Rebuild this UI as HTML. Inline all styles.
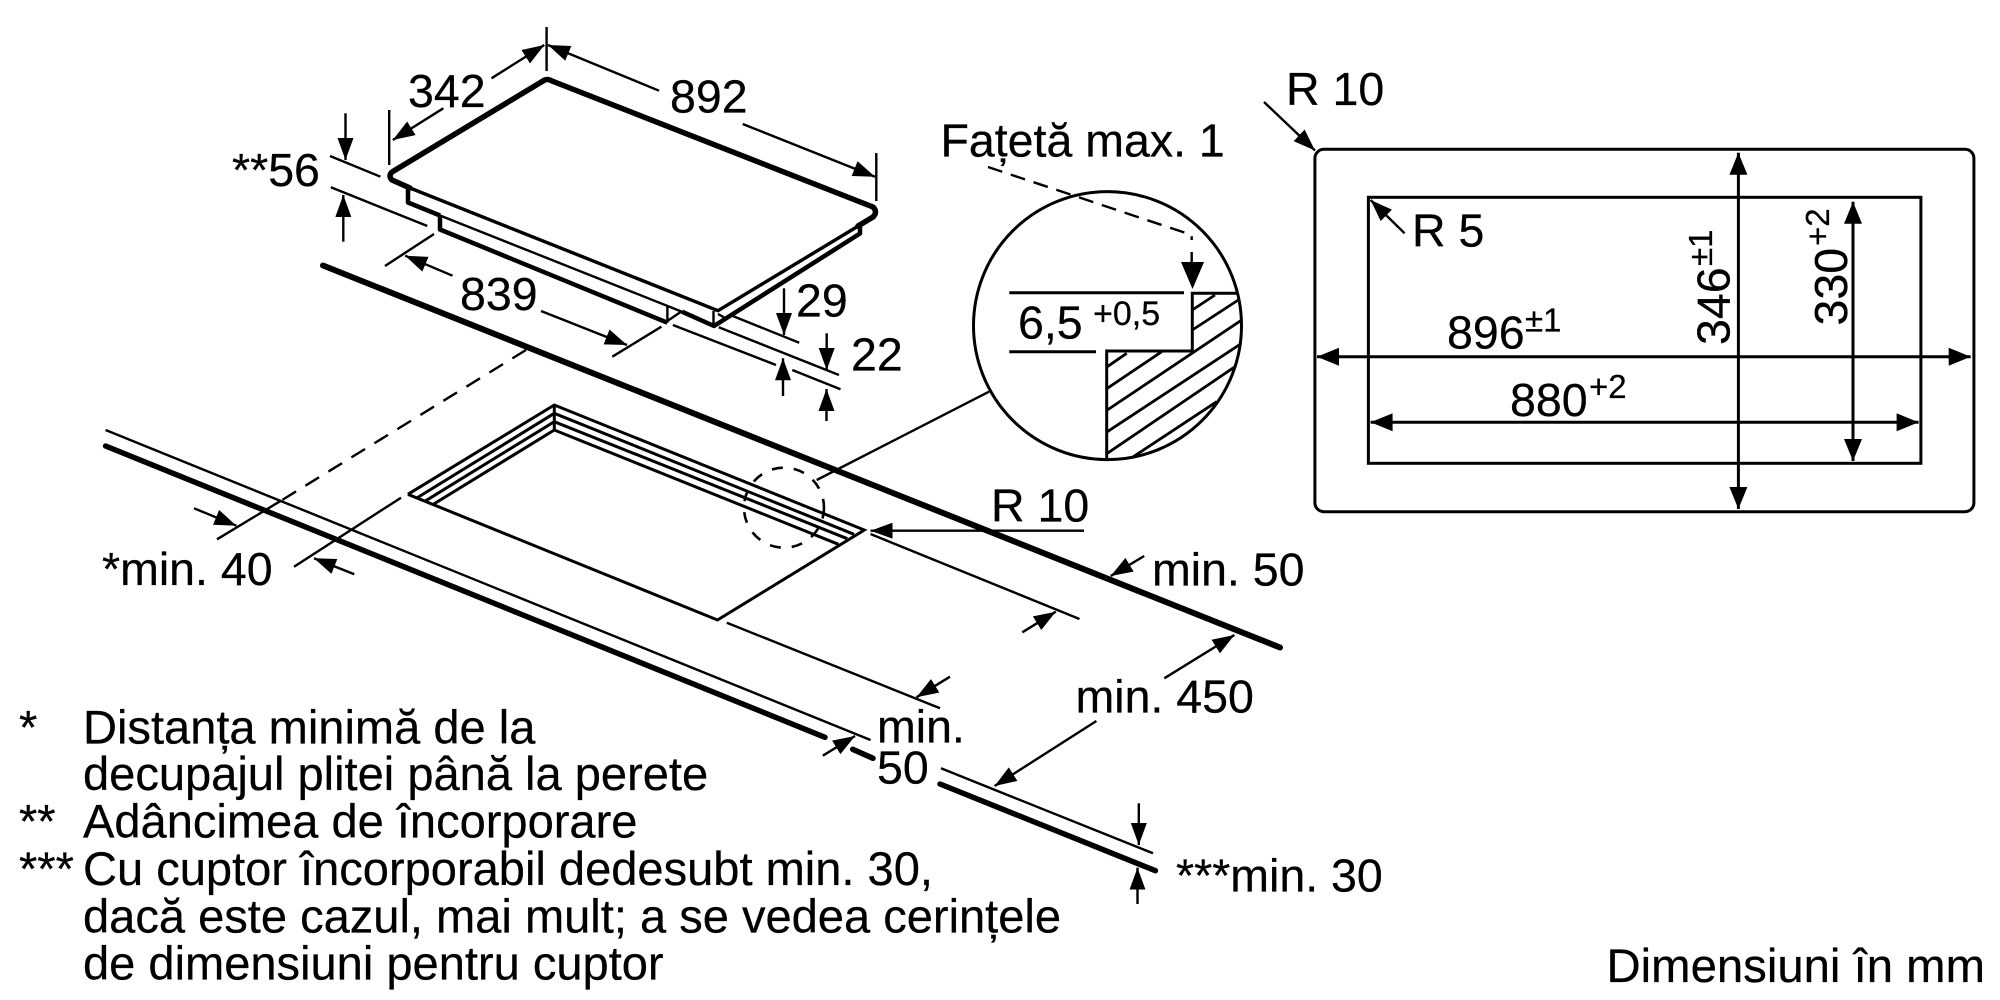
<!DOCTYPE html>
<html lang="ro"><head><meta charset="utf-8"><title>Dimensiuni</title>
<style>html,body{margin:0;padding:0;background:#fff}svg{display:block}
text{font-family:"Liberation Sans",sans-serif;font-size:46.5px;fill:#000;stroke:#000;stroke-width:.25}
.s{font-size:33px}
.s2{font-size:34px}
.n{font-size:47.05px}
.d{font-size:47.3px}
.t{stroke:#000;stroke-width:2.4;fill:none}
.m{stroke:#000;stroke-width:3;fill:none}
.k{stroke:#000;stroke-width:5.5;fill:none;stroke-linecap:round;stroke-linejoin:round}
.h{stroke:#000;stroke-width:4.5;fill:none;stroke-linejoin:round}
.a{stroke:#000;stroke-width:2.4;fill:none;marker-end:url(#a)}
.b{stroke:#000;stroke-width:3;fill:none;marker-start:url(#bs);marker-end:url(#b)}
</style></head><body>
<svg width="2000" height="1000" viewBox="0 0 2000 1000" xmlns="http://www.w3.org/2000/svg">
<defs>
<marker id="a" markerUnits="userSpaceOnUse" markerWidth="24" markerHeight="18" refX="22" refY="8" orient="auto"><path d="M0 0L22 8L0 16z" fill="#000"/></marker>
<marker id="b" markerUnits="userSpaceOnUse" markerWidth="24" markerHeight="20" refX="22" refY="9" orient="auto"><path d="M0 0L22 9L0 18z" fill="#000"/></marker>
<marker id="bs" markerUnits="userSpaceOnUse" markerWidth="24" markerHeight="20" refX="0" refY="9" orient="auto"><path d="M22 0L0 9L22 18z" fill="#000"/></marker>
<clipPath id="c"><circle cx="1107.5" cy="325.6" r="133"/></clipPath>
</defs>
<rect width="2000" height="1000" fill="#fff"/>

<!-- Hob -->
<path class="k" d="M410 188L392 180Q388 176 392 172L543 81Q547 78 552 81L873 207Q878 212 873 217L858 226"/>
<path class="t" style="stroke-width:3.4" stroke-linejoin="round" d="M860 225L718 310.7L410 188"/>
<path class="h" d="M408 188V202.5L440 215.5M440 215V229.5L667.4 322.7M682 311.7L714 326L860 233.5V224"/>
<path class="t" d="M440 215.5L682 311.7M667.4 322.7V305M667.4 321L681 311.7"/>
<path class="t" d="M713.5 311V326M718 314L727 319"/>

<!-- Top dims -->
<path class="t" d="M546.6 27V71M389.2 110V165M876.3 153V201"/>
<path class="a" d="M491.5 78.3L544.3 45"/>
<path class="a" d="M443.3 108.3L392.8 140"/>
<path class="a" d="M659 90.7L548 45"/>
<path class="a" d="M742.7 124L875 176.7"/>
<text x="408" y="107">342</text>
<text x="670" y="112.7">892</text>
<text x="232" y="186">**56</text>
<path class="a" d="M345.5 113.3V160"/>
<path class="a" d="M343.3 241.7V195"/>
<path class="t" d="M330 156L380.4 176.7M330.9 187.3L427.3 226"/>
<path class="k" style="stroke-width:6" d="M323 265.5L1280 647.5"/>
<text x="460" y="310">839</text>
<path class="a" d="M452.5 275.7L405.2 255.7"/>
<path class="a" d="M541 311L627 345"/>
<path class="t" d="M434 234L385 266M661.4 326.7L612.3 356.7"/>
<text x="796" y="316.7">29</text>
<text x="851" y="370.7">22</text>
<path class="a" d="M784 288.3V335"/>
<path class="t" d="M732.7 316L799.2 342.7M718.8 327.3L839 375M672.9 325L776 365M792.3 370L840.5 389.3"/>
<path class="a" d="M783 396V358.3"/>
<path class="a" d="M826.7 333.3V370"/>
<path class="a" d="M826.5 421V389"/>

<!-- Dashed centre line & left dims -->
<path class="t" stroke-dasharray="16 11" d="M526 350L281 500.7"/>
<path class="t" d="M281 500.7L217 539.3M401 497.7L294 566.7"/>
<path class="t" d="M105.6 430L870.5 740M941 768.3L1153 853.3"/>
<path class="k" d="M105.6 446L825 737.3M852.7 749.3L873 758.3M940 784L1155.4 870.7"/>
<path class="a" d="M194 508.3L236.4 525.7"/>
<path class="a" d="M354.3 574.3L314 558.3"/>
<text x="102" y="585">*min. 40</text>

<!-- Cutout -->
<path class="m" stroke-linejoin="miter" d="M407.9 494.3L554.3 405L864.3 530L717.5 620L407.9 494.3"/>
<path class="m" d="M416.8 498L554.3 413.3L854 534.3M424.8 501.3L554.3 421.7L847.3 538.7M433.8 504L554.3 430L838.4 544.3M554.3 405V430"/>
<circle cx="784" cy="507.7" r="40" fill="none" stroke="#000" stroke-width="2.6" stroke-dasharray="11 11"/>
<path class="t" d="M816.7 480L989 391.7"/>

<!-- R10 lower -->
<text x="991" y="521.7">R 10</text>
<path class="a" d="M1084 530.7H870.5"/>
<path class="t" d="M870.5 534L1079.5 619M726.8 622.7L940 708.3"/>
<path class="a" d="M1022.3 632.3L1055.8 611.7"/>
<path class="a" d="M950 676.7L916.5 697.3"/>
<text x="1152" y="585.7">min. 50</text>
<path class="a" d="M1144.2 556L1110.7 576"/>
<text x="1075.5" y="712.7">min. 450</text>
<path class="a" d="M1164.3 678.3L1234.4 635"/>
<path class="a" d="M1096.4 721L994.6 786"/>
<text x="877" y="742.7">min.</text>
<text x="877" y="783.3">50</text>
<path class="a" d="M822.8 755.7L855 736"/>
<text x="1176" y="891.7">***min. 30</text>
<path class="a" d="M1138.8 803.3V845"/>
<path class="a" d="M1137.5 904V867.7"/>

<!-- Detail circle -->
<circle cx="1107.5" cy="325.6" r="134" fill="none" stroke="#000" stroke-width="3"/>
<text x="940.5" y="156.7">Fațetă max. 1</text>
<path class="t" stroke-dasharray="15 9" d="M988 167L1191.7 235V240"/>
<path class="t" d="M1191.7 252V268"/>
<path d="M1181 262H1204L1192.5 289z" fill="#000"/>
<path class="m" d="M1009.3 292.7H1184M1009.3 351.7H1096"/>
<g clip-path="url(#c)">
<path class="m" d="M1240 293.3H1192.3V351H1106.7V462"/>
<path class="t" style="stroke-width:2.8" d="M1192.3 310L1215 295M1192.3 330L1238.3 300M1107.3 366.7L1126.7 353.3M1107.3 388.3L1161.7 351.7M1107.3 410L1241.7 320M1107.3 431.7L1241.7 343.3M1107.3 453.3L1235 366.7M1133.3 456.7L1216.7 401.7"/>
</g>
<text x="1018" y="338.3">6,5</text>
<text x="1093" y="325" class="s2">+0,5</text>

<!-- Right diagram -->
<text x="1286" y="105">R 10</text>
<path class="a" d="M1264 102L1315 150.5"/>
<rect x="1314.9" y="149.3" width="659" height="362.4" rx="9" fill="none" stroke="#000" stroke-width="3"/>
<rect x="1368.4" y="197.3" width="552.5" height="266" fill="none" stroke="#000" stroke-width="3"/>
<text x="1412" y="246.7">R 5</text>
<path class="a" d="M1404.6 233.3L1370.6 200"/>
<path class="b" d="M1317 356.7H1970.7"/>
<path class="b" d="M1370.6 422.3H1918.6"/>
<path class="b" d="M1738.4 152.7V509"/>
<path class="b" d="M1853 201.7V461"/>
<text x="1447" y="348.3">896</text>
<text x="1525" y="331.7" class="s">±1</text>
<text x="1510" y="416">880</text>
<text x="1589" y="398" class="s">+2</text>
<text transform="translate(1729.6 345) rotate(-90)">346</text>
<text transform="translate(1712 266) rotate(-90)" class="s">±1</text>
<text transform="translate(1847 325.5) rotate(-90)">330</text>
<text transform="translate(1829 246) rotate(-90)" class="s">+2</text>

<!-- Notes -->
<text x="19" y="743.3" class="n">*</text>
<text x="83" y="743.3" class="n">Distanța minimă de la</text>
<text x="83" y="790" class="n">decupajul plitei până la perete</text>
<text x="19" y="837.7" class="n">**</text>
<text x="83" y="837.7" class="n">Adâncimea de încorporare</text>
<text x="19" y="885" class="n">***</text>
<text x="83" y="885" class="n">Cu cuptor încorporabil dedesubt min. 30,</text>
<text x="83" y="932.3" class="n">dacă este cazul, mai mult; a se vedea cerințele</text>
<text x="83" y="979.3" class="n">de dimensiuni pentru cuptor</text>
<text x="1606.5" y="982" class="d">Dimensiuni în mm</text>
</svg>
</body></html>
